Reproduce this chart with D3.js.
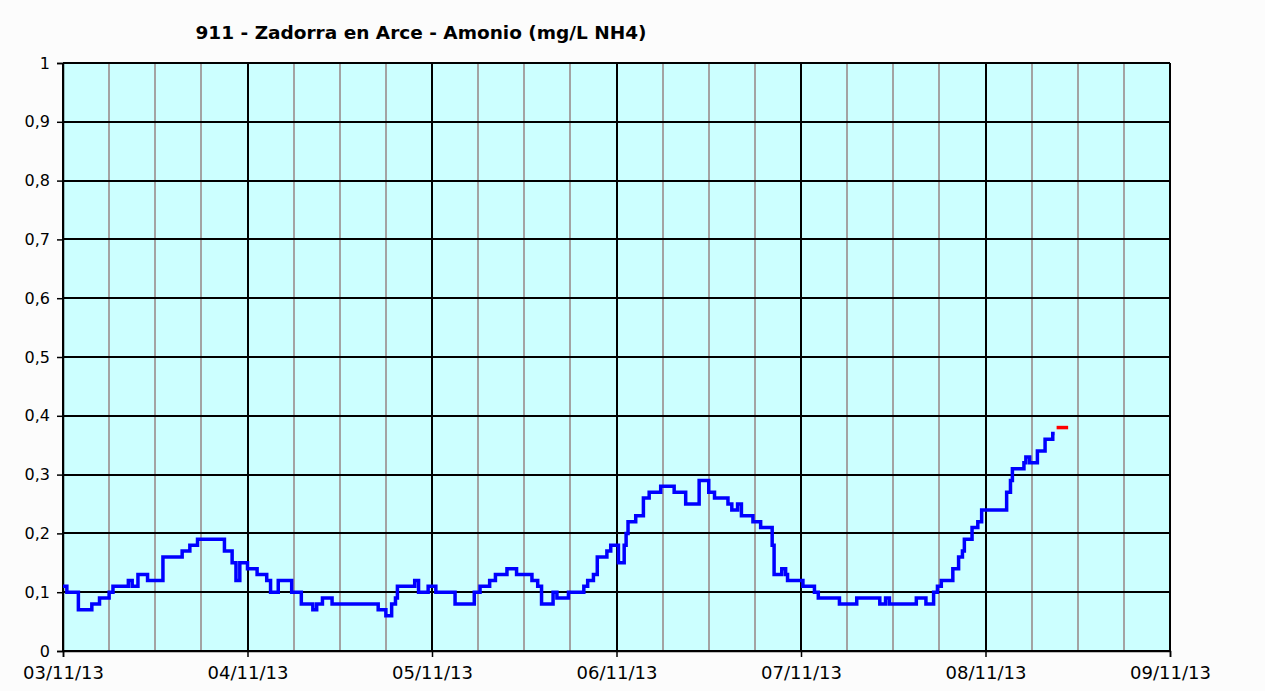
<!DOCTYPE html>
<html>
<head>
<meta charset="utf-8">
<script src="https://cdn.jsdelivr.net/npm/d3@7"></script>
<style>
  body { margin: 0; background: #fcfcfc; }
  text { font-family: "DejaVu Sans", Verdana, sans-serif; fill: #000; }
</style>
</head>
<body>
<div id="chart"></div>
<script>
//data: hours since 03/11/13 00:00 and the reading at that time
const hours = [0, 0.5, 2, 3.75, 4.75, 6, 6.5, 8.5, 9, 9.75, 11, 13, 15.5, 16.5, 17.5,
  21, 22, 22.5, 23, 24, 25.25, 26.5, 27, 28, 29.75, 31, 32.5, 33, 33.75, 35, 41, 42,
  42.75, 43.25, 43.5, 45.75, 46.25, 47.5, 48.5, 51, 53.5, 54.25, 55.5, 56.25, 57.75,
  59, 61, 61.75, 62.25, 63.75, 64.25, 65.75, 67.75, 68.25, 69, 69.5, 70.75, 71.25,
  72.25, 73, 73.25, 73.5, 74.5, 75.5, 76.25, 77.75, 79.5, 81, 82.75, 84, 84.75, 86.5,
  87, 87.75, 88.25, 89.75, 90.75, 92.25, 92.5, 93.5, 94, 94.25, 96.25, 97.75, 98.25,
  101, 103.25, 106.25, 107, 107.5, 111, 112.25, 113.25, 113.75, 114.25, 115.75, 116.5,
  117, 117.25, 118.25, 119, 119.5, 122.75, 123.25, 123.5, 125, 125.25, 125.75, 126.75,
  127.75, 128.75, 129];
const values = [0.11, 0.10, 0.07, 0.08, 0.09, 0.10, 0.11, 0.12, 0.11, 0.13, 0.12, 0.16,
  0.17, 0.18, 0.19, 0.17, 0.15, 0.12, 0.15, 0.14, 0.13, 0.12, 0.10, 0.12, 0.10, 0.08,
  0.07, 0.08, 0.09, 0.08, 0.07, 0.06, 0.08, 0.09, 0.11, 0.12, 0.10, 0.11, 0.10, 0.08,
  0.10, 0.11, 0.12, 0.13, 0.14, 0.13, 0.12, 0.11, 0.08, 0.10, 0.09, 0.10, 0.11, 0.12,
  0.13, 0.16, 0.17, 0.18, 0.15, 0.18, 0.20, 0.22, 0.23, 0.26, 0.27, 0.28, 0.27, 0.25,
  0.29, 0.27, 0.26, 0.25, 0.24, 0.25, 0.23, 0.22, 0.21, 0.18, 0.13, 0.14, 0.13, 0.12,
  0.11, 0.10, 0.09, 0.08, 0.09, 0.08, 0.09, 0.08, 0.09, 0.08, 0.10, 0.11, 0.12, 0.14,
  0.16, 0.17, 0.19, 0.21, 0.22, 0.24, 0.27, 0.29, 0.31, 0.32, 0.33, 0.32, 0.34, 0.36,
  0.37, 0.37];
//last value shown in red
const lastHours = [129.25, 130.75];
const lastValues = [0.38, 0.38];

const dayLabels = ["03/11/13", "04/11/13", "05/11/13", "06/11/13", "07/11/13", "08/11/13", "09/11/13"];
const yTicks = [0, 0.1, 0.2, 0.3, 0.4, 0.5, 0.6, 0.7, 0.8, 0.9, 1];

const width = 1265, height = 691;
const margin = {top: 63, right: 95, bottom: 40, left: 63};
const innerW = width - margin.left - margin.right,
    innerH = height - margin.top - margin.bottom;

const start = new Date(2013, 10, 3);
const toDate = h => new Date(start.getTime() + h * 3600 * 1000);

let x = d3.scaleTime()
    .domain([start, d3.timeDay.offset(start, 6)])
    .range([0, innerW]);
let y = d3.scaleLinear().domain([0, 1]).range([innerH, 0]);

let svg = d3.select("#chart").append("svg")
    .attr("width", width)
    .attr("height", height)
  .append("g")
    .attr("transform", "translate(" + margin.left + "," + margin.top + ")");

svg.append("rect")
    .attr("width", innerW)
    .attr("height", innerH)
    .attr("fill", "#ccffff");

//minor grid every 6 hours
let minor = x.ticks(d3.timeHour.every(6)).filter(d => d.getHours() !== 0);
svg.selectAll(".minor")
    .data(minor)
  .enter().append("line")
    .attr("x1", d => Math.round(x(d)))
    .attr("x2", d => Math.round(x(d)))
    .attr("y1", 0).attr("y2", innerH)
    .attr("stroke", "#a3a3a3").attr("stroke-width", 2);

//major grid
svg.selectAll(".hgrid")
    .data(yTicks)
  .enter().append("line")
    .attr("x1", 0).attr("x2", innerW)
    .attr("y1", d => Math.round(y(d)))
    .attr("y2", d => Math.round(y(d)))
    .attr("stroke", "#000").attr("stroke-width", 2);

let days = d3.timeDay.range(start, d3.timeDay.offset(start, 7));
svg.selectAll(".vgrid")
    .data(days)
  .enter().append("line")
    .attr("x1", d => Math.round(x(d)))
    .attr("x2", d => Math.round(x(d)))
    .attr("y1", 0).attr("y2", innerH)
    .attr("stroke", "#000").attr("stroke-width", 2);

//axes
let yAxis = d3.axisLeft(y)
    .tickValues(yTicks)
    .tickSize(6)
    .tickPadding(7)
    .tickFormat(d => d3.format("")(d).replace(".", ","));
let gy = svg.append("g").call(yAxis);

let xAxis = d3.axisBottom(x)
    .tickValues(days)
    .tickSize(6)
    .tickPadding(9)
    .tickFormat((d, i) => dayLabels[i]);
let gx = svg.append("g")
    .attr("transform", "translate(0," + innerH + ")")
    .call(xAxis);

gy.selectAll("text").style("font-size", "16px");
gx.selectAll("text").style("font-size", "18px");
[gx, gy].forEach(g => {
  g.selectAll("text").attr("fill", "#000");
  g.select(".domain").attr("stroke", "#000").attr("stroke-width", 1.5);
  g.selectAll(".tick line").attr("stroke", "#000").attr("stroke-width", 1.5);
});

//series
let line = d3.line()
    .x(d => x(toDate(d[0])))
    .y(d => y(d[1]))
    .curve(d3.curveStepAfter);

svg.append("path")
    .datum(d3.zip(hours, values))
    .attr("d", line)
    .attr("fill", "none")
    .attr("stroke", "#0000ff")
    .attr("stroke-width", 3.5);

svg.append("path")
    .datum(d3.zip(lastHours, lastValues))
    .attr("d", line)
    .attr("fill", "none")
    .attr("stroke", "#ff0000")
    .attr("stroke-width", 3.5);

//title
svg.append("text")
    .attr("x", 421 - margin.left)
    .attr("y", 39 - margin.top)
    .attr("text-anchor", "middle")
    .style("font-size", "18.5px")
    .style("font-weight", "bold")
    .text("911 - Zadorra en Arce - Amonio (mg/L NH4)");
</script>
</body>
</html>
